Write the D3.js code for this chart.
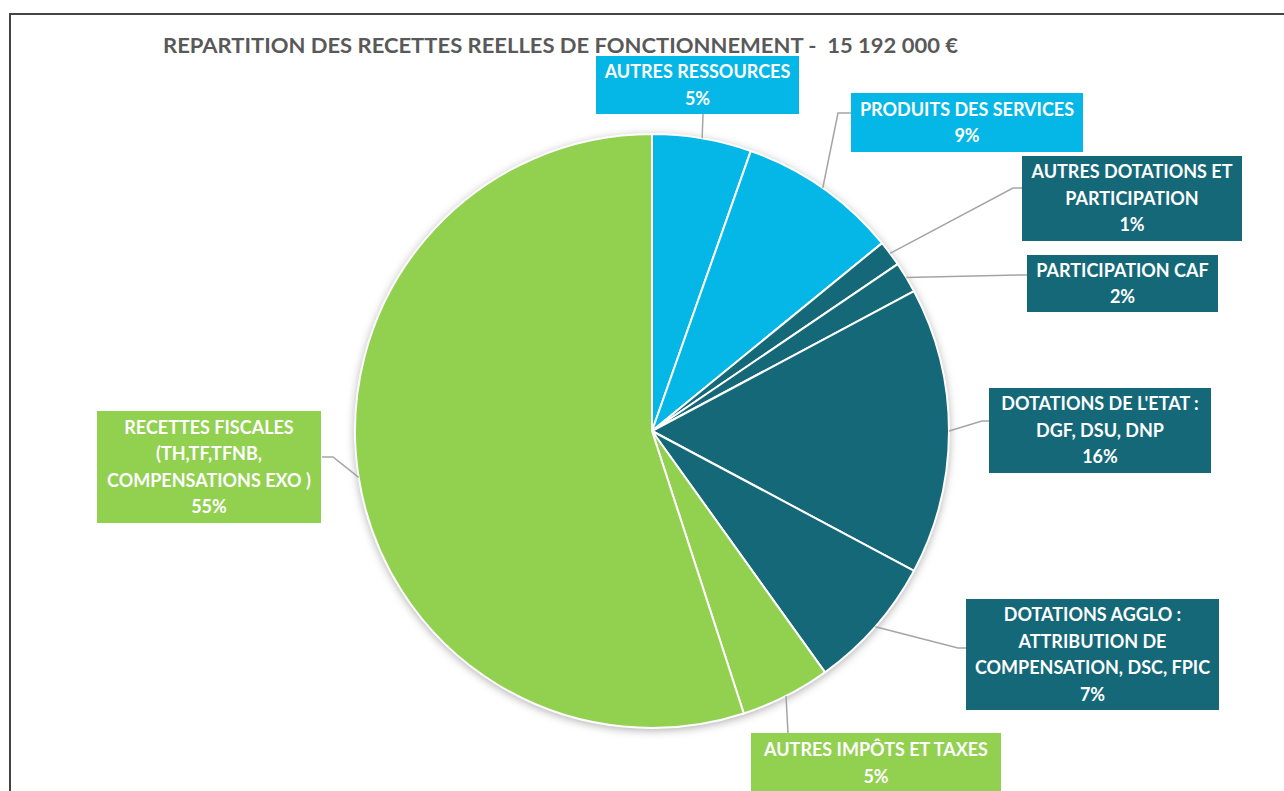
<!DOCTYPE html>
<html>
<head>
<meta charset="utf-8">
<script src="https://cdn.jsdelivr.net/npm/d3@7"></script>
<style>
  html, body { margin: 0; padding: 0; background: #fff; }
  svg { display: block; }
  text { font-family: Lato, "Open Sans", sans-serif; font-weight: 700; white-space: pre; }
</style>
</head>
<body>
<svg class="chart" width="1284" height="791"></svg>
<script>
// data (percent of 15 192 000 €), clockwise from 12 o'clock
var categories = [
    "AUTRES RESSOURCES",
    "PRODUITS DES SERVICES",
    "AUTRES DOTATIONS ET\nPARTICIPATION",
    "PARTICIPATION CAF",
    "DOTATIONS DE L'ETAT :\nDGF, DSU, DNP",
    "DOTATIONS AGGLO :\nATTRIBUTION DE\nCOMPENSATION, DSC, FPIC",
    "AUTRES IMPÔTS ET TAXES",
    "RECETTES FISCALES\n(TH,TF,TFNB,\nCOMPENSATIONS EXO )"
];
var values = [5.4, 8.7, 1.4, 1.7, 15.6, 7.3, 4.9, 55.0];
var groups = ["ress", "ress", "dot", "dot", "dot", "dot", "fisc", "fisc"];
var title = "REPARTITION DES RECETTES REELLES DE FONCTIONNEMENT -  15 192 000 €";

// label boxes and leader elbows (layout only)
var boxes = [
    {x: 596, y: 56, w: 203, h: 58, elbow: [703, 114], end: [703, 114]},
    {x: 851, y: 93, w: 232, h: 59, elbow: [838, 113], end: [851, 113]},
    {x: 1022, y: 156, w: 220, h: 85, elbow: [1013, 188], end: [1022, 188]},
    {x: 1027, y: 255, w: 191, h: 57, elbow: [1020, 275], end: [1027, 275]},
    {x: 989, y: 388, w: 222, h: 85, elbow: [982, 421], end: [989, 421]},
    {x: 966, y: 599, w: 253, h: 111, elbow: [958, 648], end: [966, 648]},
    {x: 751, y: 733, w: 250, h: 60, elbow: [788, 733], end: [788, 733]},
    {x: 97, y: 411, w: 224, h: 112, elbow: [333, 457], end: [322, 457]}
];

(function(){
    var svg = d3.select("svg.chart"),
        width = +svg.attr("width"),
        height = +svg.attr("height");

    var cx = 652, cy = 431, radius = 297;
    var lineH = 26.5;

    var color = d3.scaleOrdinal()
        .domain(["ress", "dot", "fisc"])
        .range(["#05b7e7", "#146878", "#92d050"]);

    // outer frame (only top and left visible in the reference)
    svg.append("path")
        .attr("d", "M10," + height + "V14H" + width)
        .attr("fill", "none")
        .attr("stroke", "#444")
        .attr("stroke-width", 2);

    svg.append("text")
        .attr("x", 163)
        .attr("y", 53)
        .attr("font-size", 21)
        .attr("fill", "#595959")
        .attr("textLength", 795)
        .attr("lengthAdjust", "spacingAndGlyphs")
        .text(title);

    var defs = svg.append("defs");
    var shadow = defs.append("filter")
        .attr("id", "shadow")
        .attr("x", "-20%").attr("y", "-20%")
        .attr("width", "140%").attr("height", "140%");
    shadow.append("feDropShadow")
        .attr("dx", 0).attr("dy", 2)
        .attr("stdDeviation", 5)
        .attr("flood-color", "#000")
        .attr("flood-opacity", 0.35);

    var pie = d3.pie().sort(null).value(function(d) { return d; });
    var arcs = pie(values);
    var arc = d3.arc().innerRadius(0).outerRadius(radius);

    var g = svg.append("g").attr("transform", "translate(" + cx + "," + cy + ")");

    g.append("circle")
        .attr("r", radius)
        .attr("fill", "#fff")
        .attr("filter", "url(#shadow)");

    g.selectAll("path.slice")
        .data(arcs)
        .enter().append("path")
        .attr("class", "slice")
        .attr("d", arc)
        .attr("fill", function(d, i) { return color(groups[i]); })
        .attr("stroke", "#fff")
        .attr("stroke-width", 2)
        .attr("stroke-linejoin", "round");

    // leader lines
    svg.append("g")
        .selectAll("polyline")
        .data(arcs)
        .enter().append("polyline")
        .attr("points", function(d, i) {
            var a = (d.startAngle + d.endAngle) / 2;
            var p = [cx + radius * Math.sin(a), cy - radius * Math.cos(a)];
            var b = boxes[i];
            return [p, b.elbow, b.end].map(function(q) { return q.join(","); }).join(" ");
        })
        .attr("fill", "none")
        .attr("stroke", "#a5a5a5")
        .attr("stroke-width", 1.5);

    var label = svg.append("g")
        .selectAll("g")
        .data(arcs)
        .enter().append("g");

    label.append("rect")
        .attr("x", function(d, i) { return boxes[i].x; })
        .attr("y", function(d, i) { return boxes[i].y; })
        .attr("width", function(d, i) { return boxes[i].w; })
        .attr("height", function(d, i) { return boxes[i].h; })
        .attr("fill", function(d, i) { return color(groups[i]); });

    label.each(function(d, i) {
        var b = boxes[i];
        var lines = categories[i].split("\n").concat([Math.round(values[i]) + "%"]);
        var n = lines.length;
        var t = d3.select(this).append("text")
            .attr("text-anchor", "middle")
            .attr("font-size", 18)
            .attr("fill", "#fff");
        lines.forEach(function(s, k) {
            t.append("tspan")
                .attr("x", b.x + b.w / 2)
                .attr("y", b.y + b.h / 2 + (k - (n - 1) / 2) * lineH)
                .attr("dy", "0.36em")
                .text(s);
        });
    });
})();
</script>
</body>
</html>
